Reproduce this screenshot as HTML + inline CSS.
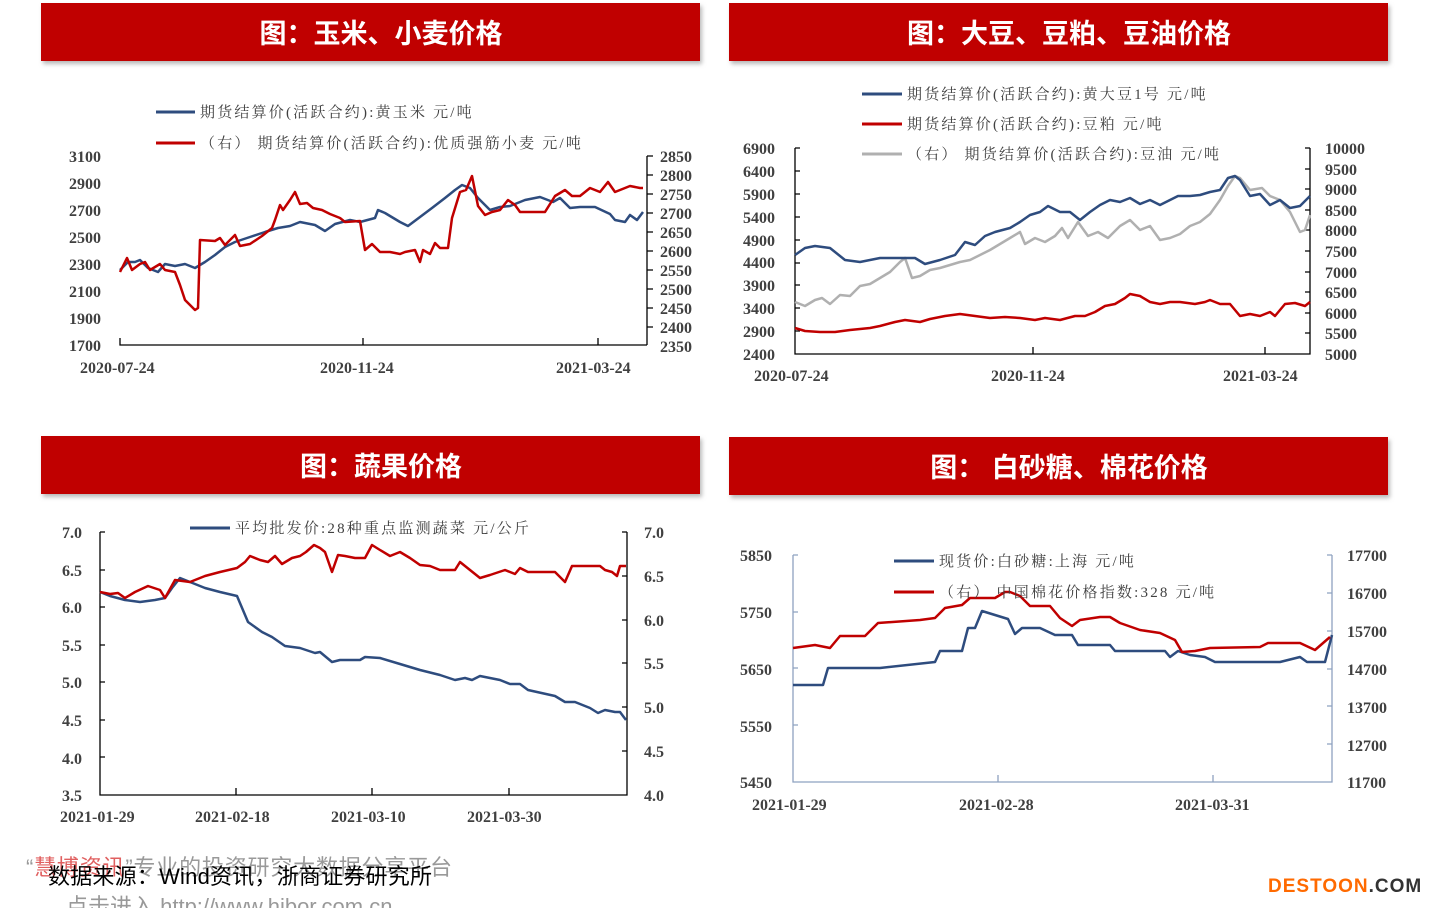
<!DOCTYPE html>
<html><head><meta charset="utf-8"><style>
html,body{margin:0;padding:0;background:#fff;}
svg{display:block;}
.t{font-family:"Liberation Serif","Noto Serif CJK SC",serif;font-size:16px;font-weight:bold;fill:#404040;}
.l{font-family:"Liberation Serif","Noto Serif CJK SC",serif;font-size:15px;fill:#404040;letter-spacing:2.2px;}
.h{font-family:"Liberation Sans","Noto Sans CJK SC",sans-serif;font-size:27px;font-weight:bold;fill:#fff;}
.b{fill:none;stroke:#2e4c7e;stroke-width:2.5;stroke-linejoin:round;}
.r{fill:none;stroke:#c00000;stroke-width:2.5;stroke-linejoin:round;}
.g{fill:none;stroke:#b0b0b0;stroke-width:2.5;stroke-linejoin:round;}
.ax{stroke:#000;stroke-width:1.3;fill:none;}
.ax2{stroke:#8ea2c0;stroke-width:1.3;fill:none;}
</style></head><body>
<svg width="1440" height="908" viewBox="0 0 1440 908" xmlns="http://www.w3.org/2000/svg">
<defs><filter id="sh" x="-5%" y="-20%" width="110%" height="150%"><feDropShadow dx="2" dy="3" stdDeviation="2" flood-color="#888" flood-opacity="0.6"/></filter></defs>
<rect x="41" y="3" width="659" height="58" fill="#c00000" filter="url(#sh)"/>
<rect x="729" y="3" width="659" height="58" fill="#c00000" filter="url(#sh)"/>
<rect x="41" y="436" width="659" height="58" fill="#c00000" filter="url(#sh)"/>
<rect x="729" y="437" width="659" height="58" fill="#c00000" filter="url(#sh)"/>
<text class="h" x="381" y="43" text-anchor="middle">图：玉米、小麦价格</text>
<text class="h" x="1069" y="43" text-anchor="middle">图：大豆、豆粕、豆油价格</text>
<text class="h" x="381" y="476" text-anchor="middle">图：蔬果价格</text>
<text class="h" x="1069" y="477" text-anchor="middle">图：  白砂糖、棉花价格</text>

<!-- Chart 1 -->
<line x1="156" y1="112" x2="195" y2="112" stroke="#2e4c7e" stroke-width="3"/>
<text class="l" x="200" y="117">期货结算价(活跃合约):黄玉米  元/吨</text>
<line x1="156" y1="143" x2="195" y2="143" stroke="#c00000" stroke-width="3"/>
<text class="l" x="200" y="148">（右） 期货结算价(活跃合约):优质强筋小麦  元/吨</text>
<g class="t" text-anchor="end">
<text x="101" y="162">3100</text><text x="101" y="189">2900</text><text x="101" y="216">2700</text><text x="101" y="243">2500</text><text x="101" y="270">2300</text><text x="101" y="297">2100</text><text x="101" y="324">1900</text><text x="101" y="351">1700</text>
</g>
<g class="t">
<text x="660" y="162">2850</text><text x="660" y="181">2800</text><text x="660" y="200">2750</text><text x="660" y="219">2700</text><text x="660" y="238">2650</text><text x="660" y="257">2600</text><text x="660" y="276">2550</text><text x="660" y="295">2500</text><text x="660" y="314">2450</text><text x="660" y="333">2400</text><text x="660" y="352">2350</text>
<text x="80" y="373">2020-07-24</text><text x="320" y="373">2020-11-24</text><text x="556" y="373">2021-03-24</text>
</g>
<path class="ax" d="M120 338V345H647M363 345V338M598 345V338M647 156H653M647 345V156"/>
<path class="ax" d="M647 175h6M647 194h6M647 213h6M647 232h6M647 251h6M647 270h6M647 289h6M647 308h6M647 327h6"/>
<polyline class="b" points="120,270 128,262 135,262 140,260 148,268 158,272 165,264 175,266 185,264 195,268 205,262 215,255 225,247 235,242 250,237 265,232 278,228 290,226 300,222 315,225 325,231 335,224 350,220 360,222 375,218 378,210 385,213 400,222 408,226 420,217 432,208 445,198 455,190 462,185 470,188 478,198 490,210 500,207 510,206 525,200 540,197 553,202 560,198 570,208 580,207 595,207 610,214 615,220 625,222 630,215 637,220 643,212"/>
<polyline class="r" points="120,272 127,258 132,270 140,264 145,262 150,270 160,264 165,270 175,272 180,285 185,300 195,310 198,308 200,240 215,241 220,238 225,245 235,235 240,246 250,244 262,236 272,228 275,220 280,205 283,210 290,200 295,192 300,204 307,203 313,208 322,210 330,214 340,218 345,222 360,221 365,250 372,244 380,252 390,252 400,254 405,252 415,250 420,262 423,250 430,254 435,243 440,248 448,248 452,218 460,192 466,190 472,176 478,206 485,215 492,212 500,210 508,200 515,205 520,212 545,212 555,196 565,190 572,196 580,196 590,188 600,192 608,182 615,192 630,186 640,188 643,188"/>

<!-- Chart 2 -->
<line x1="862" y1="94" x2="902" y2="94" stroke="#2e4c7e" stroke-width="3"/>
<text class="l" x="907" y="99">期货结算价(活跃合约):黄大豆1号  元/吨</text>
<line x1="862" y1="124" x2="902" y2="124" stroke="#c00000" stroke-width="3"/>
<text class="l" x="907" y="129">期货结算价(活跃合约):豆粕  元/吨</text>
<line x1="862" y1="154" x2="902" y2="154" stroke="#b0b0b0" stroke-width="3"/>
<text class="l" x="907" y="159">（右） 期货结算价(活跃合约):豆油  元/吨</text>
<g class="t" text-anchor="end">
<text x="775" y="154">6900</text><text x="775" y="177">6400</text><text x="775" y="200">5900</text><text x="775" y="223">5400</text><text x="775" y="246">4900</text><text x="775" y="268">4400</text><text x="775" y="291">3900</text><text x="775" y="314">3400</text><text x="775" y="337">2900</text><text x="775" y="360">2400</text>
</g>
<g class="t">
<text x="1325" y="154">10000</text><text x="1325" y="175">9500</text><text x="1325" y="195">9000</text><text x="1325" y="216">8500</text><text x="1325" y="236">8000</text><text x="1325" y="257">7500</text><text x="1325" y="278">7000</text><text x="1325" y="298">6500</text><text x="1325" y="319">6000</text><text x="1325" y="339">5500</text><text x="1325" y="360">5000</text>
<text x="754" y="381">2020-07-24</text><text x="991" y="381">2020-11-24</text><text x="1223" y="381">2021-03-24</text>
</g>
<path class="ax" d="M795 148V354H1310V148M1033 354V347M1265 354V347M795 148h5M795 171h5M795 194h5M795 217h5M795 240h5M795 263h5M795 285h5M795 308h5M795 331h5M1310 148h-5M1310 169h-5M1310 189h-5M1310 210h-5M1310 230h-5M1310 251h-5M1310 272h-5M1310 292h-5M1310 313h-5M1310 333h-5"/>
<polyline class="g" points="795,302 805,306 815,300 822,298 830,304 840,295 850,296 860,286 870,284 880,278 890,272 900,262 905,258 912,278 920,276 930,270 940,268 950,265 960,262 970,260 980,255 990,250 1000,244 1010,238 1020,232 1025,244 1035,238 1045,242 1055,236 1062,228 1068,238 1078,222 1088,236 1098,232 1108,238 1120,226 1130,220 1140,230 1150,226 1160,240 1170,238 1180,234 1190,226 1200,222 1210,214 1220,200 1228,186 1235,176 1240,178 1250,190 1262,188 1270,196 1280,200 1290,212 1300,232 1305,230 1310,215"/>
<polyline class="b" points="795,255 805,248 815,246 830,248 845,260 860,262 880,258 900,258 915,258 925,264 940,260 955,255 965,242 975,245 985,236 995,232 1010,228 1020,222 1030,215 1040,212 1048,206 1060,212 1070,212 1080,220 1090,212 1100,205 1110,200 1120,202 1130,198 1140,204 1150,200 1160,205 1170,200 1178,196 1190,196 1200,195 1210,192 1220,190 1228,178 1235,176 1240,180 1250,196 1260,194 1270,205 1280,200 1290,208 1300,206 1310,196"/>
<polyline class="r" points="795,328 805,331 820,332 835,332 850,330 870,328 880,326 895,322 905,320 920,322 930,319 945,316 960,314 975,316 990,318 1005,317 1020,318 1035,320 1045,318 1060,320 1075,316 1085,316 1095,312 1105,306 1115,304 1125,298 1130,294 1140,296 1150,302 1160,304 1170,302 1180,302 1195,304 1205,302 1210,300 1220,304 1230,304 1240,316 1250,314 1260,316 1270,312 1275,316 1285,304 1295,303 1305,306 1310,302"/>

<!-- Chart 3 -->
<line x1="190" y1="528" x2="230" y2="528" stroke="#2e4c7e" stroke-width="3"/>
<text class="l" x="235" y="533">平均批发价:28种重点监测蔬菜  元/公斤</text>
<g class="t" text-anchor="end">
<text x="82" y="538">7.0</text><text x="82" y="576">6.5</text><text x="82" y="613">6.0</text><text x="82" y="651">5.5</text><text x="82" y="688">5.0</text><text x="82" y="726">4.5</text><text x="82" y="764">4.0</text><text x="82" y="801">3.5</text>
</g>
<g class="t">
<text x="644" y="538">7.0</text><text x="644" y="582">6.5</text><text x="644" y="626">6.0</text><text x="644" y="669">5.5</text><text x="644" y="713">5.0</text><text x="644" y="757">4.5</text><text x="644" y="801">4.0</text>
<text x="60" y="822">2021-01-29</text><text x="195" y="822">2021-02-18</text><text x="331" y="822">2021-03-10</text><text x="467" y="822">2021-03-30</text>
</g>
<path class="ax" d="M100 532V795H627V532M236 795V788M372 795V788M509 795V788M100 532h5M100 570h5M100 607h5M100 645h5M100 682h5M100 720h5M100 757h5M627 532h-5M627 576h-5M627 620h-5M627 663h-5M627 707h-5M627 751h-5"/>
<polyline class="b" points="100,592 110,596 125,600 140,602 155,600 165,598 172,588 180,578 190,582 205,588 220,592 237,596 248,622 262,632 272,637 285,646 300,648 315,653 320,652 332,662 340,660 360,660 365,657 380,658 400,664 420,670 440,675 455,680 465,678 472,680 480,676 500,680 510,684 520,684 528,690 555,696 565,702 575,702 590,708 598,713 605,710 615,712 620,712 626,720"/>
<polyline class="r" points="100,592 110,594 118,593 125,598 135,592 148,586 160,590 165,598 175,580 190,582 205,576 220,572 237,568 245,562 250,556 260,560 268,562 275,556 282,564 292,558 300,556 306,552 314,545 320,548 325,552 332,572 338,555 345,556 355,558 365,558 372,545 380,550 390,556 400,552 410,558 420,565 430,566 440,570 455,570 460,562 470,570 480,578 490,575 505,570 515,574 520,568 528,572 555,572 565,582 572,566 580,566 600,566 605,570 612,572 617,576 620,566 626,566"/>

<!-- Chart 4 -->
<g class="t" text-anchor="end">
<text x="772" y="561">5850</text><text x="772" y="618">5750</text><text x="772" y="675">5650</text><text x="772" y="732">5550</text><text x="772" y="788">5450</text>
</g>
<g class="t">
<text x="1347" y="561">17700</text><text x="1347" y="599">16700</text><text x="1347" y="637">15700</text><text x="1347" y="675">14700</text><text x="1347" y="713">13700</text><text x="1347" y="751">12700</text><text x="1347" y="788">11700</text>
<text x="752" y="810">2021-01-29</text><text x="959" y="810">2021-02-28</text><text x="1175" y="810">2021-03-31</text>
</g>
<path class="ax2" d="M793 555V782H1332V555M998 782V775M1213 782V775M793 555h5M793 612h5M793 668h5M793 725h5M1332 555h-5M1332 593h-5M1332 631h-5M1332 669h-5M1332 706h-5M1332 744h-5"/>
<line x1="894" y1="561" x2="934" y2="561" stroke="#2e4c7e" stroke-width="3"/>
<text class="l" x="939" y="566">现货价:白砂糖:上海  元/吨</text>
<polyline class="b" points="793,685 823,685 828,668 880,668 935,662 940,651 962,651 968,628 975,628 982,611 1008,619 1015,634 1022,628 1040,628 1055,635 1072,635 1078,645 1110,645 1115,651 1165,651 1170,657 1178,651 1190,655 1205,657 1215,662 1280,662 1300,657 1307,662 1325,662 1332,635"/>
<polyline class="r" points="793,648 815,645 830,648 840,636 865,636 878,623 920,620 935,618 945,608 962,605 970,598 995,598 1005,592 1010,592 1020,596 1030,606 1050,606 1060,618 1072,626 1080,620 1100,617 1110,617 1120,623 1140,630 1160,633 1175,640 1182,652 1195,651 1210,648 1260,647 1268,643 1300,643 1315,650 1330,637"/>
<line x1="894" y1="592" x2="934" y2="592" stroke="#c00000" stroke-width="3"/>
<text class="l" x="939" y="597">（右） 中国棉花价格指数:328  元/吨</text>

<!-- Footer -->
<text x="26" y="875" font-family="Liberation Sans,Noto Sans CJK SC,sans-serif" font-size="22" fill="#999" textLength="426"><tspan>“</tspan><tspan fill="#e06060">慧博资讯</tspan><tspan>”专业的投资研究大数据分享平台</tspan></text>
<text x="48" y="884" font-family="Liberation Sans,Noto Sans CJK SC,sans-serif" font-size="22" fill="#000" textLength="384">数据来源：Wind资讯，浙商证券研究所</text>
<text x="66" y="914" font-family="Liberation Sans,Noto Sans CJK SC,sans-serif" font-size="22" fill="#999">点击进入  http://www.hibor.com.cn</text>
<text x="1268" y="892" font-family="Liberation Sans,sans-serif" font-size="19" font-weight="bold" letter-spacing="1"><tspan fill="#ff6a00">DESTOON</tspan><tspan fill="#333">.COM</tspan></text>
</svg>
</body></html>
